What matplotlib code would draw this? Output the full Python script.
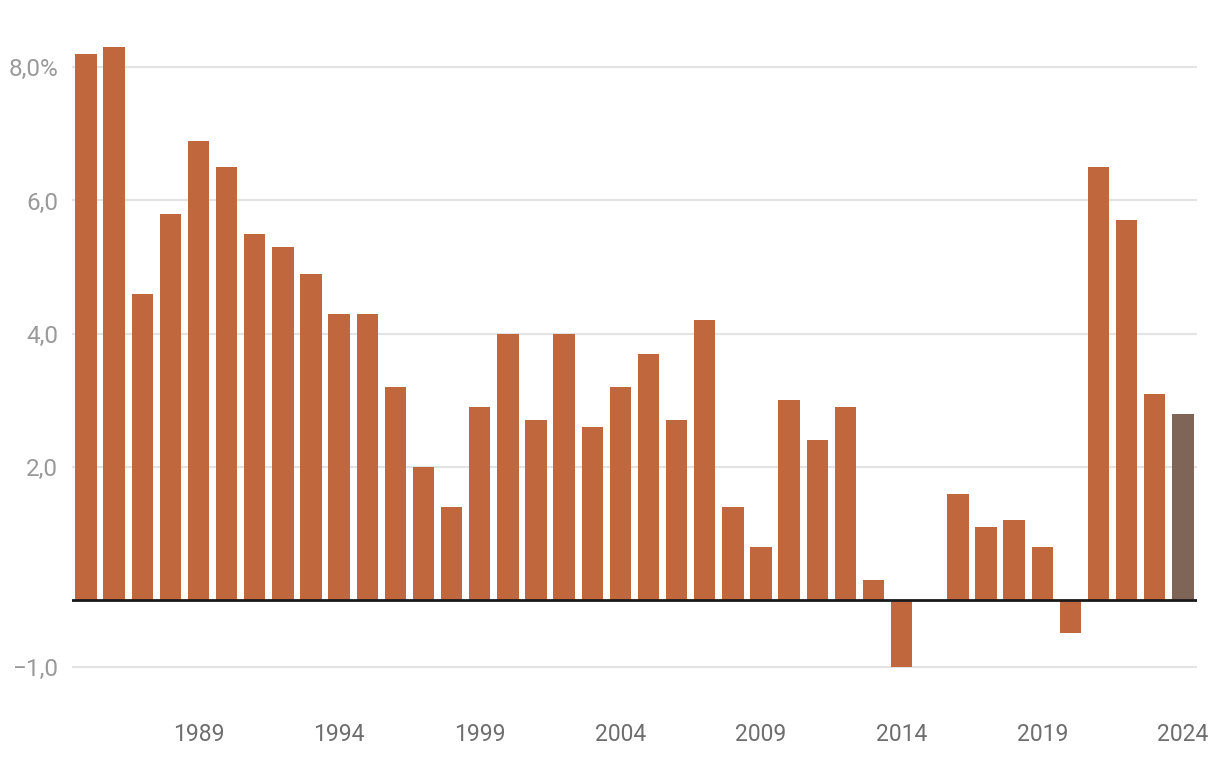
import matplotlib.pyplot as plt
from matplotlib.ticker import FixedLocator, FixedFormatter

# Annual values, 1985-2024 (2015 has no bar)
years = list(range(1985, 2025))
values = [8.2, 8.3, 4.6, 5.8, 6.9, 6.5, 5.5, 5.3, 4.9, 4.3,
          4.3, 3.2, 2.0, 1.4, 2.9, 4.0, 2.7, 4.0, 2.6, 3.2,
          3.7, 2.7, 4.2, 1.4, 0.8, 3.0, 2.4, 2.9, 0.3, -1.0,
          0.0, 1.6, 1.1, 1.2, 0.8, -0.5, 6.5, 5.7, 3.1, 2.8]
highlight_year = 2024

ytick_values = [-1, 2, 4, 6, 8]
ytick_labels = ["\u22121,0", "2,0", "4,0", "6,0", "8,0%"]
xtick_years = [1989, 1994, 1999, 2004, 2009, 2014, 2019, 2024]

plt.rcParams['font.family'] = ['Roboto', 'DejaVu Sans']

fig = plt.figure(figsize=(12.2, 7.62), dpi=100)
ax = fig.add_axes([72 / 1220, 1 - 690 / 762, 1125 / 1220, 676 / 762])

colors = ["#7f6558" if y == highlight_year else "#c0673e" for y in years]
ax.bar(years, values, width=0.76, color=colors, zorder=3)

ax.set_xlim(1984.5, 2024.5)
ax.set_ylim(-1.35, 8.8)

# Grid lines and zero line
for v in ytick_values:
    ax.axhline(v, color="#e3e3e3", linewidth=1.5, zorder=1)
ax.axhline(0, color="#1a1a1a", linewidth=2, zorder=4)

ax.yaxis.set_major_locator(FixedLocator(ytick_values))
ax.yaxis.set_major_formatter(FixedFormatter(ytick_labels))
ax.set_xticks(xtick_years)
ax.set_xticklabels([str(y) for y in xtick_years])

ax.tick_params(axis="y", length=0, pad=10, labelsize=17.5, labelcolor="#9a9a9a")
ax.tick_params(axis="x", length=0, pad=24, labelsize=16.5, labelcolor="#6e6e6e")

for s in ax.spines.values():
    s.set_visible(False)

fig.savefig("out.png", dpi=100)
